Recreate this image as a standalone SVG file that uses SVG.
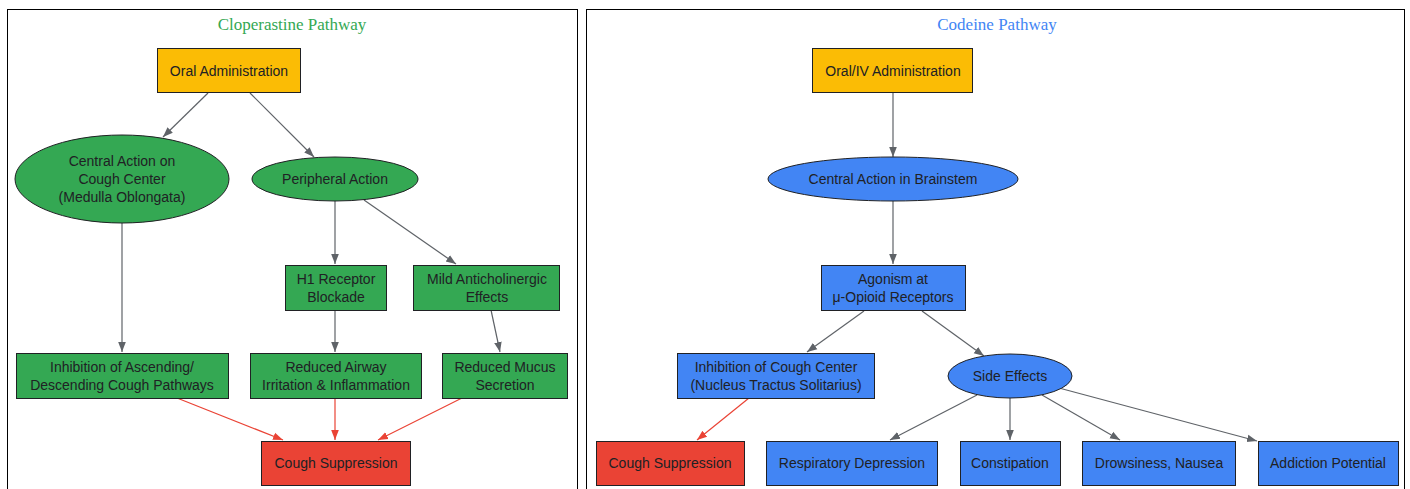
<svg xmlns="http://www.w3.org/2000/svg" width="1410" height="489" viewBox="0 0 1410 489">
<style>
.cl{fill:#fff;stroke:#000;stroke-width:1}
.t{font-family:"Liberation Sans",Arial,sans-serif;font-size:14px;fill:#202124;text-anchor:middle}
.ct{font-family:"Liberation Serif","Times New Roman",serif;font-size:17px;text-anchor:middle}
.n{stroke:#202124;stroke-width:1}
.y{fill:#fbbc05}.g{fill:#34a853}.r{fill:#ea4335}.b{fill:#4285f4}
.e{fill:none;stroke:#5f6368;stroke-width:1.2}
.er{fill:none;stroke:#ea4335;stroke-width:1.2}
</style>
<defs>
<marker id="ag" viewBox="0 0 10 10" refX="10" refY="5" markerWidth="10" markerHeight="10" markerUnits="userSpaceOnUse" orient="auto"><path d="M0,1.2 L10,5 L0,8.8 z" fill="#5f6368"/></marker>
<marker id="ar" viewBox="0 0 10 10" refX="10" refY="5" markerWidth="10" markerHeight="10" markerUnits="userSpaceOnUse" orient="auto"><path d="M0,1.2 L10,5 L0,8.8 z" fill="#ea4335"/></marker>
</defs>
<rect width="1410" height="489" fill="#fff"/>
<g id="cluster-cloperastine">
<rect class="cl" x="7.5" y="9.5" width="570" height="490"/>
<text class="ct" x="292" y="30" fill="#34a853">Cloperastine Pathway</text>
</g>
<g id="cluster-codeine">
<rect class="cl" x="586.5" y="9.5" width="818" height="490"/>
<text class="ct" x="997" y="30" fill="#4285f4">Codeine Pathway</text>
</g>
<g id="connectors">
<line class="e" x1="208" y1="93" x2="163" y2="137" marker-end="url(#ag)"/>
<line class="e" x1="250" y1="93" x2="314" y2="157" marker-end="url(#ag)"/>
<line class="e" x1="122" y1="223" x2="122" y2="352" marker-end="url(#ag)"/>
<line class="e" x1="335" y1="201" x2="335" y2="264" marker-end="url(#ag)"/>
<line class="e" x1="364" y1="200" x2="456" y2="264" marker-end="url(#ag)"/>
<line class="e" x1="335" y1="310" x2="335" y2="352" marker-end="url(#ag)"/>
<line class="e" x1="491" y1="310" x2="500" y2="352" marker-end="url(#ag)"/>
<line class="er" x1="177" y1="398" x2="283" y2="440" marker-end="url(#ar)"/>
<line class="er" x1="335" y1="398" x2="335" y2="440" marker-end="url(#ar)"/>
<line class="er" x1="462" y1="398" x2="378" y2="440" marker-end="url(#ar)"/>
<line class="e" x1="893" y1="93" x2="893" y2="157" marker-end="url(#ag)"/>
<line class="e" x1="893" y1="201" x2="893" y2="264" marker-end="url(#ag)"/>
<line class="e" x1="864" y1="311" x2="807" y2="352" marker-end="url(#ag)"/>
<line class="e" x1="922" y1="311" x2="984" y2="356" marker-end="url(#ag)"/>
<line class="er" x1="749" y1="398" x2="697" y2="440" marker-end="url(#ar)"/>
<line class="e" x1="977" y1="395" x2="890" y2="440" marker-end="url(#ag)"/>
<line class="e" x1="1010" y1="398" x2="1010" y2="440" marker-end="url(#ag)"/>
<line class="e" x1="1042" y1="395" x2="1120" y2="440" marker-end="url(#ag)"/>
<line class="e" x1="1059" y1="388" x2="1257" y2="441" marker-end="url(#ag)"/>
</g>
<g id="oral-admin"><rect class="n y" x="157.5" y="48.5" width="143" height="44"/><text class="t" x="229" y="75.5">Oral Administration</text></g>
<g id="central-cough"><ellipse class="n g" cx="122" cy="179" rx="107" ry="44"/><text class="t" x="122" y="166">Central Action on</text><text class="t" x="122" y="184">Cough Center</text><text class="t" x="122" y="202">(Medulla Oblongata)</text></g>
<g id="peripheral"><ellipse class="n g" cx="335" cy="179" rx="83" ry="22"/><text class="t" x="335" y="184">Peripheral Action</text></g>
<g id="h1"><rect class="n g" x="285.5" y="265.5" width="101" height="45"/><text class="t" x="336" y="284">H1 Receptor</text><text class="t" x="336" y="302">Blockade</text></g>
<g id="anticholinergic"><rect class="n g" x="413.5" y="265.5" width="146" height="45"/><text class="t" x="487" y="284">Mild Anticholinergic</text><text class="t" x="487" y="302">Effects</text></g>
<g id="inhibition-asc"><rect class="n g" x="16.5" y="353.5" width="212" height="45"/><text class="t" x="122" y="372">Inhibition of Ascending/</text><text class="t" x="122" y="390">Descending Cough Pathways</text></g>
<g id="airway"><rect class="n g" x="250.5" y="353.5" width="171" height="45"/><text class="t" x="336" y="372">Reduced Airway</text><text class="t" x="336" y="390">Irritation &amp; Inflammation</text></g>
<g id="mucus"><rect class="n g" x="442.5" y="353.5" width="125" height="45"/><text class="t" x="505" y="372">Reduced Mucus</text><text class="t" x="505" y="390">Secretion</text></g>
<g id="cough-clo"><rect class="n r" x="261.5" y="441.5" width="149" height="44"/><text class="t" x="336" y="468">Cough Suppression</text></g>
<g id="oraliv"><rect class="n y" x="812.5" y="48.5" width="160" height="44"/><text class="t" x="893" y="75.5">Oral/IV Administration</text></g>
<g id="brainstem"><ellipse class="n b" cx="893" cy="179" rx="125" ry="22"/><text class="t" x="893" y="184">Central Action in Brainstem</text></g>
<g id="agonism"><rect class="n b" x="821.5" y="265.5" width="144" height="45"/><text class="t" x="893" y="284">Agonism at</text><text class="t" x="893" y="302">μ-Opioid Receptors</text></g>
<g id="inhibition-nts"><rect class="n b" x="677.5" y="353.5" width="197" height="45"/><text class="t" x="776" y="372">Inhibition of Cough Center</text><text class="t" x="776" y="390">(Nucleus Tractus Solitarius)</text></g>
<g id="side-effects"><ellipse class="n b" cx="1010" cy="376" rx="62" ry="22"/><text class="t" x="1010" y="381">Side Effects</text></g>
<g id="cough-cod"><rect class="n r" x="596.5" y="441.5" width="148" height="44"/><text class="t" x="670" y="468">Cough Suppression</text></g>
<g id="resp"><rect class="n b" x="766.5" y="441.5" width="171" height="44"/><text class="t" x="852" y="468">Respiratory Depression</text></g>
<g id="constipation"><rect class="n b" x="960.5" y="441.5" width="100" height="44"/><text class="t" x="1010" y="468">Constipation</text></g>
<g id="drowsiness"><rect class="n b" x="1082.5" y="441.5" width="153" height="44"/><text class="t" x="1159" y="468">Drowsiness, Nausea</text></g>
<g id="addiction"><rect class="n b" x="1258.5" y="441.5" width="140" height="44"/><text class="t" x="1328" y="468">Addiction Potential</text></g>
</svg>
